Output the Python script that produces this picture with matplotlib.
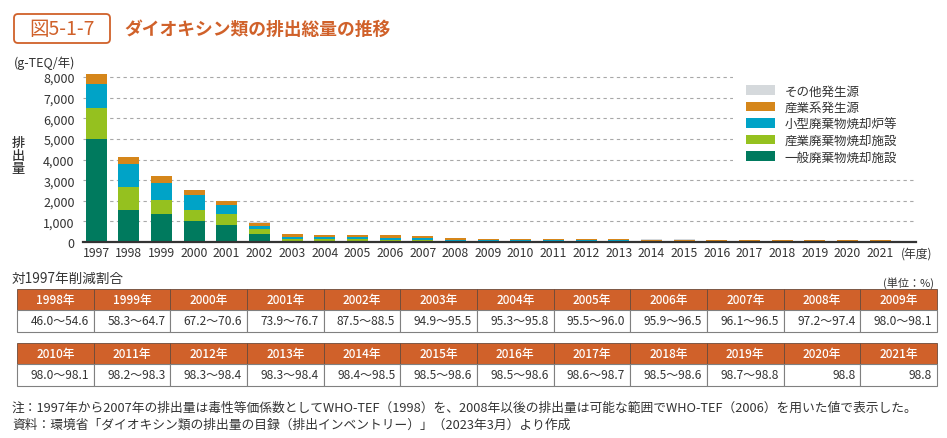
import matplotlib
matplotlib.use('Agg')
import matplotlib.pyplot as plt
from matplotlib.patches import Rectangle, FancyBboxPatch, Patch
import numpy as np

plt.rcParams['font.family'] = ['Noto Sans CJK JP', 'DejaVu Sans']

# ---------------- data ----------------
years = list(range(1997, 2022))
general_waste = [5000, 1550, 1350, 1019, 812, 370, 71, 64, 62, 54, 52, 36, 33, 32, 29, 27, 28, 26, 25, 23, 22, 22, 21, 20, 19]
industrial_waste = [1505, 1100, 690, 555, 533, 266, 75, 70, 73, 63, 60, 30, 27, 28, 25, 24, 23, 22, 21, 21, 20, 20, 19, 18, 17]
small_incinerators = [1153, 1153, 826, 703, 460, 150, 100, 95, 90, 85, 75, 40, 30, 30, 25, 25, 24, 21, 20, 19, 18, 18, 16, 15, 14]
industrial_sources = [470, 335, 329, 264, 195, 160, 150, 130, 120, 115, 110, 90, 65, 65, 60, 57, 55, 51, 53, 52, 51, 55, 49, 45, 46]
other_sources = [4.8, 4.8, 4.8, 4.8, 4.8, 4.8, 4.8, 4.8, 4.8, 4.8, 4.8, 3, 3, 3, 3, 3, 3, 3, 3, 3, 3, 3, 3, 3, 3]

series_names = ['一般廃棄物焼却施設', '産業廃棄物焼却施設', '小型廃棄物焼却炉等', '産業系発生源', 'その他発生源']
series_values = [general_waste, industrial_waste, small_incinerators, industrial_sources, other_sources]
series_colors = ['#007a5e', '#95c11f', '#00a3c7', '#d5861a', '#d5d9dc']

yticks = [0, 1000, 2000, 3000, 4000, 5000, 6000, 7000, 8000]

table_years_1 = ['1998年', '1999年', '2000年', '2001年', '2002年', '2003年',
                 '2004年', '2005年', '2006年', '2007年', '2008年', '2009年']
table_vals_1 = ['46.0～54.6', '58.3～64.7', '67.2～70.6', '73.9～76.7', '87.5～88.5', '94.9～95.5',
                '95.3～95.8', '95.5～96.0', '95.9～96.5', '96.1～96.5', '97.2～97.4', '98.0～98.1']
table_years_2 = ['2010年', '2011年', '2012年', '2013年', '2014年', '2015年',
                 '2016年', '2017年', '2018年', '2019年', '2020年', '2021年']
table_vals_2 = ['98.0～98.1', '98.2～98.3', '98.3～98.4', '98.3～98.4', '98.4～98.5', '98.5～98.6',
                '98.5～98.6', '98.6～98.7', '98.5～98.6', '98.7～98.8', '98.8', '98.8']

title_num = '図5-1-7'
title_text = 'ダイオキシン類の排出総量の推移'
note1 = '注：1997年から2007年の排出量は毒性等価係数としてWHO-TEF（1998）を、2008年以後の排出量は可能な範囲でWHO-TEF（2006）を用いた値で表示した。'
note2 = '資料：環境省「ダイオキシン類の排出量の目録（排出インベントリー）」（2023年3月）より作成'

# ---------------- figure ----------------
W, H = 947, 439
fig = plt.figure(figsize=(W / 100, H / 100), dpi=100)

ORANGE = '#d0612a'
TXT = '#333333'

def fx(px):
    return px / W

def fy(py):
    return 1 - py / H

# main chart axes
ax = fig.add_axes([fx(83), fy(243), (916 - 83) / W, (243 - 74) / H])
x = np.arange(len(years))
bottom = np.zeros(len(years))
for vals, color in zip(series_values, series_colors):
    v = np.array(vals, dtype=float)
    ax.bar(x, v, 0.64, bottom=bottom, color=color, zorder=3, linewidth=0)
    bottom += v

ax.set_xlim(-0.4, len(years) + 0.1)
ax.set_ylim(0, 8200)
ax.set_yticks(yticks)
ax.set_yticklabels([f'{t:,}' for t in yticks], fontsize=9, color=TXT)
ax.set_xticks(x)
ax.set_xticklabels([str(y) for y in years], fontsize=8.8, color=TXT)
ax.tick_params(axis='both', length=0)
ax.tick_params(axis='y', pad=6)
ax.tick_params(axis='x', pad=3)
ax.yaxis.grid(True, linestyle=(0, (3, 3)), color='#a8a8a8', linewidth=0.8, zorder=0)
ax.set_axisbelow(True)
for s in ['top', 'right', 'left']:
    ax.spines[s].set_visible(False)
ax.spines['bottom'].set_color('#333333')
ax.spines['bottom'].set_linewidth(1.6)
ax.spines['bottom'].set_zorder(4)

# white area behind legend (covers gridlines)
ax.add_patch(Rectangle((0.78, 0.445), 0.23, 0.6, transform=ax.transAxes,
                       facecolor='white', edgecolor='none', zorder=1, clip_on=False))

handles = [Patch(facecolor=c, edgecolor='none') for c in series_colors][::-1]
labels = series_names[::-1]
leg = ax.legend(handles, labels, loc='upper left', bbox_to_anchor=(fx(746), fy(85.5)),
                bbox_transform=fig.transFigure, frameon=False, fontsize=9,
                handlelength=2.3, handleheight=0.8, handletextpad=0.8,
                labelspacing=0.28, borderpad=0, borderaxespad=0)
for t in leg.get_texts():
    t.set_color(TXT)

# overlay axes for annotations/table in pixel coordinates
ao = fig.add_axes([0, 0, 1, 1], zorder=5)
ao.set_xlim(0, W)
ao.set_ylim(H, 0)
ao.axis('off')
ao.patch.set_alpha(0)

# title
ao.add_patch(FancyBboxPatch((14, 15), 96, 29, boxstyle='round,pad=0,rounding_size=4',
                            facecolor='white', edgecolor=ORANGE, linewidth=1.3))
ao.text(62, 29.5, title_num, fontsize=14, color=ORANGE, ha='center', va='center', fontweight='normal')
ao.text(124, 29.5, title_text, fontsize=12.8, color=ORANGE, ha='left', va='center', fontweight='bold')

# axis labels
ao.text(14, 63, '(g-TEQ/年)', fontsize=9, color=TXT, ha='left', va='center')
ao.text(18, 156, '排\n出\n量', fontsize=9.5, color=TXT, ha='center', va='center', linespacing=0.95,
        fontweight='medium')
ao.text(901, 254, '(年度)', fontsize=8.5, color=TXT, ha='left', va='center')

# table
ao.text(12, 279, '対1997年削減割合', fontsize=9.8, color=TXT, ha='left', va='center')
ao.text(934, 283, '(単位：%)', fontsize=8, color=TXT, ha='right', va='center')

x0, cw = 17, (937 - 17) / 12
BORDER = '#808080'
def draw_table(top, ylabels, vlabels):
    hh, vh = 20.5, 22.5
    for i, (yl, vl) in enumerate(zip(ylabels, vlabels)):
        cx = x0 + i * cw
        ao.add_patch(Rectangle((cx, top), cw, hh, facecolor=ORANGE, edgecolor='#6b4a3a', linewidth=0.6))
        ao.add_patch(Rectangle((cx, top + hh), cw, vh, facecolor='white', edgecolor=BORDER, linewidth=0.8))
        ao.text(cx + cw / 2, top + hh / 2, yl, fontsize=8.5, color='white', ha='center', va='center',
                fontweight='medium')
        ao.text(cx + cw - 5, top + hh + vh / 2, vl, fontsize=8.6, color=TXT, ha='right', va='center')

draw_table(290, table_years_1, table_vals_1)
draw_table(344, table_years_2, table_vals_2)

# notes
ao.text(12, 408, note1, fontsize=9.2, color=TXT, ha='left', va='center')
ao.text(12, 425, note2, fontsize=9.2, color=TXT, ha='left', va='center')

fig.savefig('out.png', dpi=100)
